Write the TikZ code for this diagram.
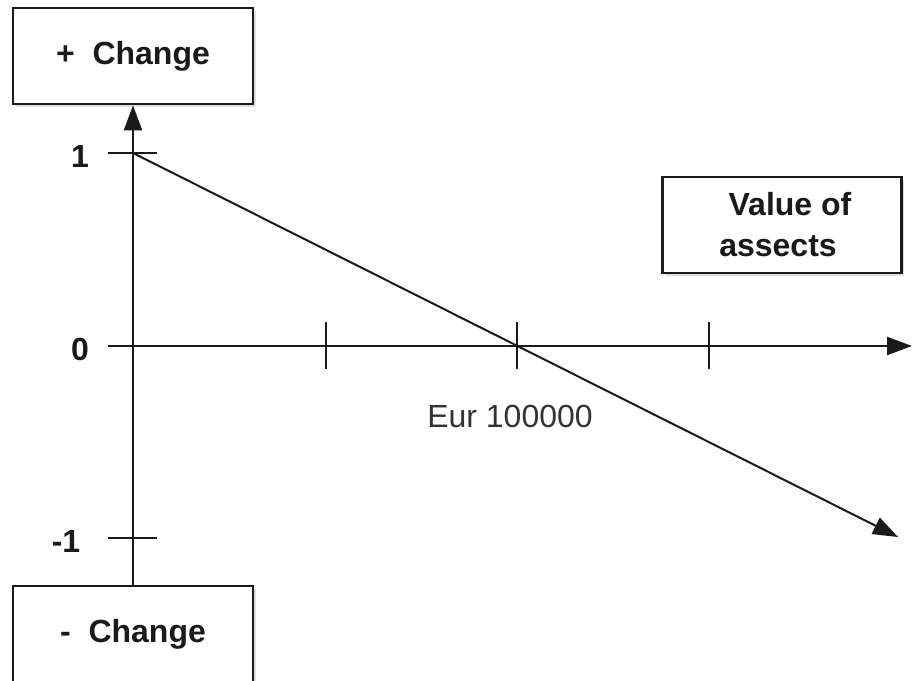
\documentclass[tikz,border=0pt]{standalone}
\usepackage{fontspec}
\setmainfont{Liberation Sans}
\usetikzlibrary{arrows.meta,shadows}
\definecolor{ink}{HTML}{1A1A1A}
\definecolor{soft}{HTML}{333333}
\begin{document}
\begin{tikzpicture}[x=1pt,y=-1pt,
  labelbox/.style={draw=ink,line width=2.6pt,fill=white,rectangle,
    minimum width=240pt,minimum height=96pt,inner sep=0pt,
    font=\fontsize{32}{41}\selectfont\bfseries,text=ink,align=center,
    drop shadow={opacity=0.25,shadow xshift=2.5pt,shadow yshift=-2.5pt}},
  axis/.style={draw=ink,line width=2.3pt},
  tip/.style={-{Triangle[length=25pt,width=18pt]}},
  ticklabel/.style={font=\fontsize{32}{36}\selectfont\bfseries,text=ink,inner sep=0pt},
  tickmark/.style={draw=ink,line width=2pt}]
\useasboundingbox (0,0) rectangle (912,680);

% boxes at the axis ends
\node[labelbox] (plus) at (133,56) {+\ \ Change};
\node[labelbox] (minus) at (133,634) {-\ \ Change};
\node[labelbox,minimum width=239pt] (value) at (782,225)
  {\hspace*{16pt}Value of\\\hspace*{-8pt}assects};

% vertical axis, from the lower box up to the upper one
\draw[axis,tip] (minus.north) -- (plus.south);

% horizontal axis
\coordinate (xstart) at (108,346);
\coordinate (xend) at (912,346);
\draw[axis,tip] (xstart) -- (xend);

% ticks on the vertical axis
\coordinate (ya) at (108,153); \coordinate (yb) at (157,153);
\coordinate (yc) at (108,538); \coordinate (yd) at (157,538);
\draw[tickmark] (ya) -- (yb);
\draw[tickmark] (yc) -- (yd);

% ticks on the horizontal axis
\foreach \i/\x in {1/326,2/517,3/709}{
  \coordinate (t\i a) at (\x,322);
  \coordinate (t\i b) at (\x,369);
  \draw[tickmark] (t\i a) -- (t\i b);
}

% tick labels
\node[ticklabel] (one) at (80,156) {1};
\node[ticklabel] (zero) at (80,349) {0};
\node[ticklabel] (mone) at (66,541) {-1};
\node[font=\fontsize{32}{36}\selectfont,text=soft,inner sep=0pt] (eur) at (510,416) {Eur 100000};

% the falling line
\coordinate (lstart) at (133,153);
\coordinate (lend) at (898,537);
\draw[axis,line width=2pt,tip] (lstart) -- (lend);
\end{tikzpicture}
\end{document}
